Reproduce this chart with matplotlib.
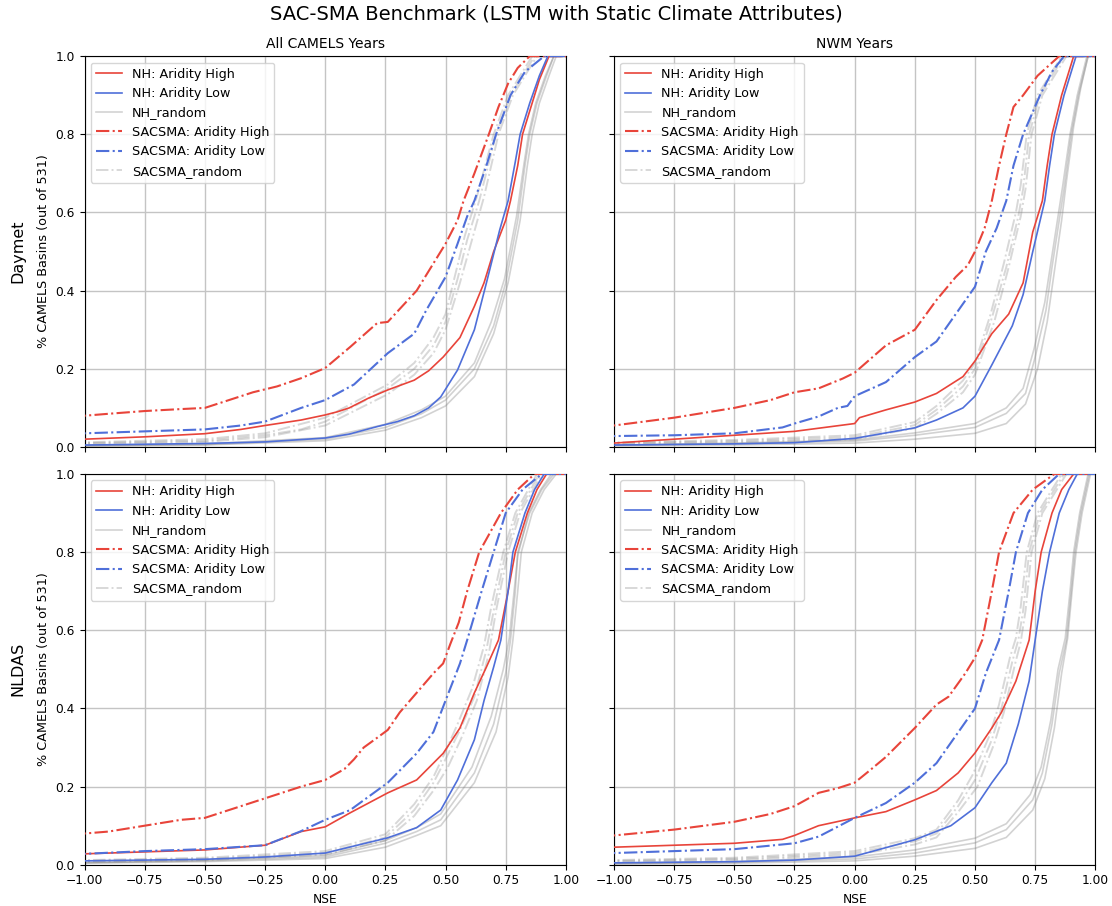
import matplotlib
matplotlib.use("Agg")
import matplotlib.pyplot as plt

# ---------------- data (NSE, fraction of basins) ----------------
# Daymet / All CAMELS Years
da_nh_high = [(-1.0, 0.020), (-0.75, 0.026), (-0.5, 0.034), (-0.35, 0.045), (-0.25, 0.055), (-0.1, 0.069),
              (0.0, 0.082), (0.05, 0.09), (0.1, 0.10), (0.18, 0.125), (0.26, 0.146), (0.37, 0.171),
              (0.43, 0.195), (0.49, 0.23), (0.56, 0.28), (0.62, 0.36), (0.66, 0.42), (0.70, 0.50),
              (0.75, 0.58), (0.77, 0.63), (0.80, 0.72), (0.82, 0.80), (0.86, 0.88), (0.89, 0.94), (0.93, 1.0)]
da_nh_low = [(-1.0, 0.005), (-0.5, 0.009), (-0.25, 0.013), (0.0, 0.023), (0.1, 0.033), (0.215, 0.052),
             (0.30, 0.065), (0.37, 0.08), (0.43, 0.10), (0.48, 0.128), (0.55, 0.197), (0.62, 0.30),
             (0.67, 0.42), (0.725, 0.555), (0.76, 0.63), (0.79, 0.73), (0.81, 0.80), (0.85, 0.88),
             (0.89, 0.95), (0.925, 1.0)]
da_sac_high = [(-1.0, 0.08), (-0.9, 0.085), (-0.75, 0.092), (-0.6, 0.097), (-0.5, 0.10), (-0.4, 0.12),
               (-0.3, 0.14), (-0.2, 0.155), (-0.1, 0.176), (0.0, 0.202), (0.104, 0.256), (0.216, 0.317),
               (0.26, 0.32), (0.32, 0.36), (0.38, 0.40), (0.45, 0.47), (0.50, 0.52), (0.55, 0.58),
               (0.575, 0.63), (0.62, 0.70), (0.68, 0.80), (0.72, 0.87), (0.76, 0.93), (0.80, 0.97), (0.85, 1.0)]
da_sac_low = [(-1.0, 0.035), (-0.75, 0.04), (-0.5, 0.045), (-0.35, 0.055), (-0.25, 0.065), (-0.1, 0.10),
              (0.0, 0.12), (0.12, 0.16), (0.26, 0.24), (0.37, 0.29), (0.42, 0.35), (0.50, 0.435),
              (0.55, 0.52), (0.59, 0.59), (0.62, 0.63), (0.67, 0.72), (0.71, 0.80), (0.77, 0.90),
              (0.83, 0.96), (0.91, 1.0)]
da_nh_rand_1 = [(-1.0, 0.003), (-0.5, 0.006), (0.0, 0.02), (0.25, 0.05), (0.4, 0.085), (0.5, 0.12),
                (0.62, 0.20), (0.70, 0.31), (0.75, 0.42), (0.80, 0.58), (0.83, 0.72), (0.85, 0.80),
                (0.88, 0.88), (0.92, 0.95), (0.95, 1.0)]
da_nh_rand_2 = [(-1.0, 0.002), (-0.5, 0.005), (0.0, 0.016), (0.25, 0.043), (0.4, 0.075), (0.5, 0.105),
                (0.62, 0.18), (0.70, 0.29), (0.76, 0.42), (0.81, 0.58), (0.84, 0.72), (0.86, 0.80),
                (0.89, 0.88), (0.93, 0.95), (0.96, 1.0)]
da_nh_rand_3 = [(-1.0, 0.004), (-0.5, 0.008), (0.0, 0.024), (0.25, 0.058), (0.4, 0.095), (0.5, 0.13),
                (0.62, 0.215), (0.69, 0.32), (0.745, 0.43), (0.795, 0.59), (0.825, 0.72), (0.845, 0.80),
                (0.875, 0.88), (0.915, 0.95), (0.95, 1.0)]
da_sac_rand_1 = [(-1.0, 0.01), (-0.5, 0.016), (-0.25, 0.03), (-0.1, 0.045), (0.0, 0.065), (0.26, 0.15),
                 (0.37, 0.20), (0.45, 0.26), (0.50, 0.32), (0.55, 0.43), (0.59, 0.53), (0.64, 0.63),
                 (0.71, 0.80), (0.77, 0.90), (0.87, 1.0)]
da_sac_rand_2 = [(-1.0, 0.008), (-0.5, 0.013), (-0.25, 0.025), (0.0, 0.055), (0.26, 0.135), (0.37, 0.185),
                 (0.45, 0.24), (0.50, 0.30), (0.56, 0.42), (0.61, 0.53), (0.66, 0.64), (0.72, 0.80),
                 (0.78, 0.90), (0.88, 1.0)]
da_sac_rand_3 = [(-1.0, 0.012), (-0.5, 0.02), (-0.25, 0.035), (0.0, 0.075), (0.26, 0.16), (0.37, 0.215),
                 (0.45, 0.28), (0.50, 0.34), (0.54, 0.44), (0.58, 0.54), (0.63, 0.64), (0.70, 0.80),
                 (0.76, 0.90), (0.86, 1.0)]

# Daymet / NWM Years
dn_nh_high = [(-1.0, 0.01), (-0.75, 0.02), (-0.5, 0.03), (-0.25, 0.04), (-0.15, 0.048), (0.0, 0.06),
              (0.02, 0.075), (0.13, 0.095), (0.25, 0.115), (0.34, 0.137), (0.45, 0.18), (0.50, 0.22),
              (0.57, 0.29), (0.64, 0.34), (0.70, 0.42), (0.74, 0.55), (0.78, 0.63), (0.80, 0.72),
              (0.82, 0.80), (0.86, 0.90), (0.91, 1.0)]
dn_nh_low = [(-1.0, 0.005), (-0.5, 0.008), (-0.25, 0.011), (0.0, 0.022), (0.25, 0.049), (0.34, 0.069),
             (0.45, 0.10), (0.50, 0.13), (0.57, 0.21), (0.655, 0.31), (0.70, 0.39), (0.74, 0.50),
             (0.79, 0.63), (0.81, 0.72), (0.83, 0.80), (0.87, 0.90), (0.92, 1.0)]
dn_sac_high = [(-1.0, 0.055), (-0.75, 0.075), (-0.5, 0.10), (-0.35, 0.12), (-0.25, 0.14), (-0.15, 0.15),
               (-0.05, 0.175), (0.0, 0.19), (0.13, 0.26), (0.25, 0.30), (0.34, 0.376), (0.42, 0.435),
               (0.47, 0.465), (0.50, 0.50), (0.54, 0.56), (0.57, 0.63), (0.60, 0.72), (0.63, 0.80),
               (0.66, 0.87), (0.70, 0.90), (0.76, 0.95), (0.85, 1.0)]
dn_sac_low = [(-1.0, 0.028), (-0.75, 0.03), (-0.5, 0.035), (-0.3, 0.05), (-0.25, 0.06), (-0.15, 0.078),
              (-0.07, 0.10), (-0.03, 0.105), (0.0, 0.13), (0.13, 0.166), (0.25, 0.23), (0.34, 0.27),
              (0.42, 0.34), (0.50, 0.41), (0.545, 0.50), (0.59, 0.56), (0.63, 0.63), (0.66, 0.72),
              (0.70, 0.80), (0.77, 0.90), (0.82, 0.96), (0.87, 1.0)]
dn_nh_rand_1 = [(-1.0, 0.004), (-0.5, 0.008), (0.0, 0.015), (0.25, 0.03), (0.5, 0.05), (0.63, 0.086),
                (0.71, 0.137), (0.75, 0.23), (0.795, 0.35), (0.82, 0.46), (0.85, 0.58), (0.87, 0.66),
                (0.90, 0.80), (0.93, 0.90), (0.97, 1.0)]
dn_nh_rand_2 = [(-1.0, 0.003), (-0.5, 0.005), (0.0, 0.01), (0.25, 0.02), (0.5, 0.035), (0.63, 0.06),
                (0.71, 0.11), (0.76, 0.20), (0.80, 0.32), (0.83, 0.45), (0.86, 0.58), (0.88, 0.68),
                (0.91, 0.82), (0.94, 0.92), (0.97, 1.0)]
dn_nh_rand_3 = [(-1.0, 0.005), (-0.5, 0.01), (0.0, 0.018), (0.25, 0.036), (0.5, 0.06), (0.63, 0.10),
                (0.70, 0.15), (0.745, 0.25), (0.79, 0.37), (0.815, 0.47), (0.845, 0.59), (0.865, 0.67),
                (0.895, 0.80), (0.925, 0.90), (0.965, 1.0)]
dn_sac_rand_1 = [(-1.0, 0.01), (-0.5, 0.015), (0.0, 0.025), (0.25, 0.056), (0.34, 0.095), (0.45, 0.155),
                 (0.50, 0.20), (0.57, 0.33), (0.63, 0.46), (0.68, 0.59), (0.70, 0.66), (0.725, 0.80),
                 (0.77, 0.90), (0.87, 1.0)]
dn_sac_rand_2 = [(-1.0, 0.008), (-0.5, 0.012), (0.0, 0.02), (0.25, 0.048), (0.34, 0.085), (0.45, 0.14),
                 (0.50, 0.185), (0.58, 0.32), (0.64, 0.46), (0.69, 0.59), (0.71, 0.66), (0.735, 0.80),
                 (0.78, 0.90), (0.88, 1.0)]
dn_sac_rand_3 = [(-1.0, 0.012), (-0.5, 0.018), (0.0, 0.03), (0.25, 0.064), (0.34, 0.105), (0.45, 0.17),
                 (0.50, 0.215), (0.565, 0.34), (0.62, 0.47), (0.67, 0.60), (0.69, 0.67), (0.715, 0.80),
                 (0.76, 0.90), (0.86, 1.0)]

# NLDAS / All CAMELS Years
na_nh_high = [(-1.0, 0.028), (-0.75, 0.033), (-0.5, 0.038), (-0.25, 0.05), (-0.1, 0.085), (0.0, 0.097),
              (0.104, 0.133), (0.26, 0.184), (0.38, 0.217), (0.49, 0.285), (0.56, 0.35), (0.62, 0.44),
              (0.67, 0.506), (0.72, 0.575), (0.76, 0.70), (0.79, 0.80), (0.84, 0.90), (0.88, 0.96), (0.92, 1.0)]
na_nh_low = [(-1.0, 0.01), (-0.5, 0.014), (-0.25, 0.02), (0.0, 0.03), (0.1, 0.045), (0.26, 0.069),
             (0.38, 0.095), (0.48, 0.14), (0.55, 0.217), (0.62, 0.32), (0.66, 0.42), (0.70, 0.506),
             (0.73, 0.575), (0.76, 0.70), (0.78, 0.80), (0.83, 0.90), (0.87, 0.96), (0.91, 1.0)]
na_sac_high = [(-1.0, 0.08), (-0.9, 0.085), (-0.75, 0.10), (-0.6, 0.115), (-0.5, 0.12), (-0.4, 0.14),
               (-0.25, 0.17), (-0.1, 0.20), (0.0, 0.217), (0.08, 0.245), (0.12, 0.27), (0.16, 0.30),
               (0.216, 0.325), (0.26, 0.345), (0.31, 0.39), (0.38, 0.44), (0.45, 0.49), (0.49, 0.515),
               (0.52, 0.565), (0.555, 0.62), (0.59, 0.70), (0.64, 0.80), (0.73, 0.90), (0.80, 0.96), (0.87, 1.0)]
na_sac_low = [(-1.0, 0.028), (-0.75, 0.035), (-0.5, 0.04), (-0.25, 0.05), (-0.104, 0.085), (0.0, 0.115),
              (0.104, 0.14), (0.26, 0.21), (0.38, 0.285), (0.45, 0.34), (0.50, 0.42), (0.56, 0.515),
              (0.59, 0.575), (0.65, 0.70), (0.70, 0.80), (0.75, 0.90), (0.82, 0.96), (0.90, 1.0)]
na_nh_rand_1 = [(-1.0, 0.005), (-0.5, 0.01), (0.0, 0.02), (0.25, 0.055), (0.38, 0.085), (0.48, 0.115),
                (0.62, 0.235), (0.70, 0.36), (0.75, 0.49), (0.77, 0.575), (0.79, 0.70), (0.80, 0.80),
                (0.85, 0.90), (0.90, 0.96), (0.95, 1.0)]
na_nh_rand_2 = [(-1.0, 0.004), (-0.5, 0.008), (0.0, 0.016), (0.25, 0.045), (0.38, 0.075), (0.48, 0.10),
                (0.62, 0.21), (0.71, 0.34), (0.76, 0.48), (0.78, 0.575), (0.80, 0.70), (0.815, 0.80),
                (0.86, 0.90), (0.91, 0.96), (0.96, 1.0)]
na_nh_rand_3 = [(-1.0, 0.006), (-0.5, 0.012), (0.0, 0.024), (0.25, 0.062), (0.38, 0.095), (0.48, 0.13),
                (0.61, 0.25), (0.69, 0.38), (0.74, 0.50), (0.765, 0.58), (0.785, 0.70), (0.80, 0.79),
                (0.845, 0.90), (0.895, 0.96), (0.94, 1.0)]
na_sac_rand_1 = [(-1.0, 0.01), (-0.5, 0.015), (0.0, 0.03), (0.25, 0.07), (0.37, 0.14), (0.45, 0.21),
                 (0.50, 0.27), (0.56, 0.345), (0.62, 0.43), (0.67, 0.55), (0.70, 0.65), (0.75, 0.80),
                 (0.80, 0.90), (0.89, 1.0)]
na_sac_rand_2 = [(-1.0, 0.008), (-0.5, 0.012), (0.0, 0.026), (0.25, 0.062), (0.37, 0.125), (0.45, 0.19),
                 (0.51, 0.25), (0.57, 0.33), (0.63, 0.42), (0.68, 0.54), (0.71, 0.65), (0.76, 0.80),
                 (0.81, 0.90), (0.90, 1.0)]
na_sac_rand_3 = [(-1.0, 0.012), (-0.5, 0.018), (0.0, 0.035), (0.25, 0.078), (0.37, 0.155), (0.45, 0.225),
                 (0.50, 0.29), (0.55, 0.36), (0.61, 0.45), (0.66, 0.56), (0.69, 0.66), (0.74, 0.80),
                 (0.79, 0.90), (0.88, 1.0)]

# NLDAS / NWM Years
nn_nh_high = [(-1.0, 0.045), (-0.75, 0.05), (-0.5, 0.055), (-0.3, 0.065), (-0.25, 0.075), (-0.15, 0.10),
              (0.0, 0.12), (0.13, 0.136), (0.25, 0.166), (0.34, 0.19), (0.43, 0.235), (0.50, 0.286),
              (0.57, 0.35), (0.61, 0.39), (0.67, 0.47), (0.725, 0.575), (0.75, 0.70), (0.775, 0.80),
              (0.82, 0.90), (0.86, 0.96), (0.91, 1.0)]
nn_nh_low = [(-1.0, 0.005), (-0.5, 0.008), (-0.25, 0.012), (0.0, 0.022), (0.25, 0.064), (0.40, 0.10),
             (0.50, 0.146), (0.57, 0.21), (0.63, 0.26), (0.68, 0.36), (0.725, 0.47), (0.75, 0.575),
             (0.78, 0.70), (0.81, 0.80), (0.85, 0.90), (0.89, 0.96), (0.925, 1.0)]
nn_sac_high = [(-1.0, 0.075), (-0.75, 0.09), (-0.5, 0.11), (-0.35, 0.13), (-0.25, 0.15), (-0.15, 0.184),
               (-0.07, 0.196), (0.0, 0.21), (0.06, 0.24), (0.13, 0.276), (0.25, 0.35), (0.34, 0.41),
               (0.39, 0.43), (0.46, 0.49), (0.50, 0.53), (0.53, 0.575), (0.57, 0.70), (0.60, 0.80),
               (0.66, 0.90), (0.74, 0.96), (0.83, 1.0)]
nn_sac_low = [(-1.0, 0.03), (-0.75, 0.035), (-0.5, 0.04), (-0.25, 0.055), (-0.15, 0.072), (0.0, 0.12),
              (0.13, 0.158), (0.25, 0.21), (0.34, 0.26), (0.42, 0.33), (0.50, 0.40), (0.545, 0.49),
              (0.60, 0.575), (0.64, 0.70), (0.67, 0.80), (0.72, 0.90), (0.78, 0.96), (0.85, 1.0)]
nn_nh_rand_1 = [(-1.0, 0.003), (-0.5, 0.006), (0.0, 0.015), (0.25, 0.03), (0.50, 0.056), (0.63, 0.09),
                (0.74, 0.166), (0.78, 0.235), (0.82, 0.36), (0.85, 0.49), (0.88, 0.575), (0.90, 0.70),
                (0.915, 0.80), (0.94, 0.90), (0.975, 1.0)]
nn_nh_rand_2 = [(-1.0, 0.002), (-0.5, 0.004), (0.0, 0.01), (0.25, 0.022), (0.50, 0.042), (0.63, 0.07),
                (0.74, 0.14), (0.79, 0.22), (0.83, 0.35), (0.86, 0.49), (0.885, 0.58), (0.905, 0.71),
                (0.92, 0.80), (0.945, 0.90), (0.98, 1.0)]
nn_nh_rand_3 = [(-1.0, 0.004), (-0.5, 0.008), (0.0, 0.02), (0.25, 0.038), (0.50, 0.068), (0.63, 0.105),
                (0.73, 0.18), (0.775, 0.25), (0.815, 0.37), (0.845, 0.50), (0.875, 0.58), (0.895, 0.70),
                (0.91, 0.80), (0.935, 0.90), (0.97, 1.0)]
nn_sac_rand_1 = [(-1.0, 0.01), (-0.5, 0.015), (0.0, 0.03), (0.25, 0.06), (0.34, 0.08), (0.43, 0.15),
                 (0.50, 0.217), (0.57, 0.32), (0.61, 0.40), (0.655, 0.52), (0.68, 0.575), (0.70, 0.65),
                 (0.725, 0.80), (0.77, 0.90), (0.87, 1.0)]
nn_sac_rand_2 = [(-1.0, 0.008), (-0.5, 0.012), (0.0, 0.025), (0.25, 0.052), (0.34, 0.07), (0.43, 0.135),
                 (0.51, 0.20), (0.58, 0.31), (0.62, 0.39), (0.665, 0.51), (0.69, 0.57), (0.71, 0.65),
                 (0.735, 0.80), (0.78, 0.90), (0.88, 1.0)]
nn_sac_rand_3 = [(-1.0, 0.012), (-0.5, 0.018), (0.0, 0.035), (0.25, 0.068), (0.34, 0.09), (0.43, 0.165),
                 (0.49, 0.23), (0.56, 0.33), (0.60, 0.41), (0.645, 0.53), (0.67, 0.58), (0.69, 0.66),
                 (0.715, 0.80), (0.76, 0.90), (0.86, 1.0)]

col_titles = ["All CAMELS Years", "NWM Years"]
row_titles = ["Daymet", "NLDAS"]
x_ticks = [-1.0, -0.75, -0.5, -0.25, 0.0, 0.25, 0.5, 0.75, 1.0]
y_ticks = [0.0, 0.2, 0.4, 0.6, 0.8, 1.0]

panels = [
    [(da_nh_high, da_nh_low, [da_nh_rand_1, da_nh_rand_2, da_nh_rand_3],
      da_sac_high, da_sac_low, [da_sac_rand_1, da_sac_rand_2, da_sac_rand_3]),
     (dn_nh_high, dn_nh_low, [dn_nh_rand_1, dn_nh_rand_2, dn_nh_rand_3],
      dn_sac_high, dn_sac_low, [dn_sac_rand_1, dn_sac_rand_2, dn_sac_rand_3])],
    [(na_nh_high, na_nh_low, [na_nh_rand_1, na_nh_rand_2, na_nh_rand_3],
      na_sac_high, na_sac_low, [na_sac_rand_1, na_sac_rand_2, na_sac_rand_3]),
     (nn_nh_high, nn_nh_low, [nn_nh_rand_1, nn_nh_rand_2, nn_nh_rand_3],
      nn_sac_high, nn_sac_low, [nn_sac_rand_1, nn_sac_rand_2, nn_sac_rand_3])],
]

RED = "#e8443a"
BLUE = "#4f6fd9"
GRAY = "#808080"


def xy(curve):
    xs = [p[0] for p in curve]
    ys = [p[1] for p in curve]
    # extend flat to the left edge and along the top
    xs = [-1.05] + xs + [1.05]
    ys = [ys[0]] + ys + [1.0]
    return xs, ys


fig, axes = plt.subplots(2, 2, figsize=(11.12, 9.06), dpi=100, sharex=True, sharey=True)
fig.subplots_adjust(left=0.076, right=0.985, top=0.938, bottom=0.0455, wspace=0.10, hspace=0.069)

for r in range(2):
    for c in range(2):
        ax = axes[r, c]
        nh_hi, nh_lo, nh_rand, sac_hi, sac_lo, sac_rand = panels[r][c]
        ax.grid(True, color="#c4c4c4", lw=1.0, zorder=0)
        ax.set_axisbelow(True)
        for i, cur in enumerate(nh_rand):
            ax.plot(*xy(cur), color=GRAY, alpha=0.35, lw=1.2, label="NH_random" if i == 0 else None, zorder=2)
        for i, cur in enumerate(sac_rand):
            ax.plot(*xy(cur), color=GRAY, alpha=0.3, lw=1.4, ls="-.",
                    label="SACSMA_random" if i == 0 else None, zorder=2)
        ax.plot(*xy(nh_hi), color=RED, lw=1.2, label="NH: Aridity High", zorder=3)
        ax.plot(*xy(nh_lo), color=BLUE, lw=1.2, label="NH: Aridity Low", zorder=3)
        ax.plot(*xy(sac_hi), color=RED, lw=1.5, ls="-.", label="SACSMA: Aridity High", zorder=3)
        ax.plot(*xy(sac_lo), color=BLUE, lw=1.5, ls="-.", label="SACSMA: Aridity Low", zorder=3)

        handles, labels = ax.get_legend_handles_labels()
        order = ["NH: Aridity High", "NH: Aridity Low", "NH_random",
                 "SACSMA: Aridity High", "SACSMA: Aridity Low", "SACSMA_random"]
        hmap = dict(zip(labels, handles))
        ax.legend([hmap[k] for k in order], order, loc="upper left", fontsize=9.2)

        ax.set_xlim(-1, 1)
        ax.set_ylim(0, 1)
        ax.set_xticks(x_ticks)
        ax.set_yticks(y_ticks)
        ax.tick_params(labelsize=8.8)
        if r == 0:
            ax.set_title(col_titles[c], fontsize=10)
        if r == 1:
            ax.set_xlabel("NSE", fontsize=8.8)
        if c == 0:
            ax.set_ylabel("% CAMELS Basins (out of 531)", fontsize=9.2)

fig.text(0.016, (0.938 + 0.507) / 2, row_titles[0], rotation=90, ha="center", va="center", fontsize=11.5)
fig.text(0.016, (0.477 + 0.0455) / 2, row_titles[1], rotation=90, ha="center", va="center", fontsize=11.5)
fig.suptitle("SAC-SMA Benchmark (LSTM with Static Climate Attributes)", fontsize=14, y=0.995)

fig.savefig("out.png", dpi=100)
